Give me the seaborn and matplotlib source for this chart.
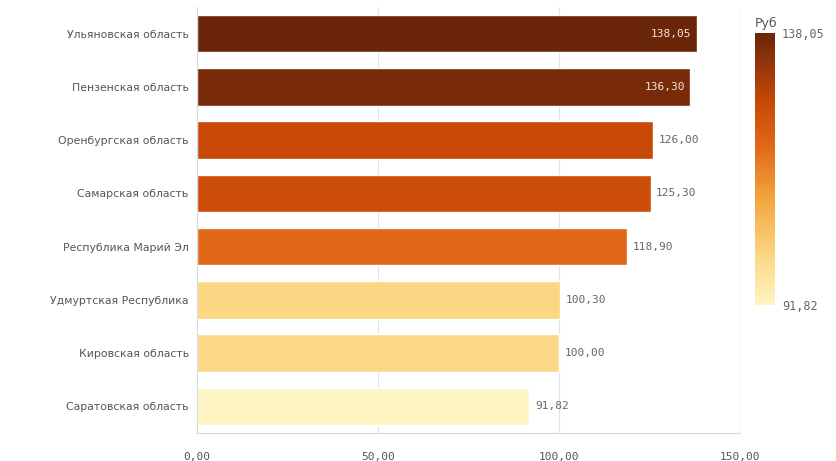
import matplotlib
matplotlib.use("Agg")
import matplotlib.pyplot as plt
import seaborn as sns
import pandas as pd
import numpy as np
from matplotlib.colors import LinearSegmentedColormap, Normalize
from matplotlib.cm import ScalarMappable

regions = ["Ульяновская область", "Пензенская область", "Оренбургская область",
           "Самарская область", "Республика Марий Эл", "Удмуртская Республика",
           "Кировская область", "Саратовская область"]
values = [138.05, 136.30, 126.00, 125.30, 118.90, 100.30, 100.00, 91.82]
x_ticks = [0, 50, 100, 150]
cbar_title = "Руб"

sns.set_theme(style="white")
plt.rcParams['font.family'] = ['DejaVu Sans']

cmap = LinearSegmentedColormap.from_list(
    "rub", [(0.0, "#fff5c2"), (0.18, "#fbd784"), (0.40, "#f3a23a"), (0.58, "#e2681a"),
            (0.74, "#c94a06"), (0.88, "#96360a"), (1.0, "#6b2508")])
vmin, vmax = min(values), max(values)
norm = Normalize(vmin=vmin, vmax=vmax)
palette = {r: cmap(norm(v)) for r, v in zip(regions, values)}

df = pd.DataFrame({"region": regions, "value": values})

fig = plt.figure(figsize=(8.36, 4.61), dpi=100)
ax = fig.add_axes([197/836, 1-433/461, (740-197)/836, (433-7)/461])
sns.barplot(data=df, x="value", y="region", hue="region", palette=palette,
            legend=False, ax=ax, width=0.7, saturation=1, orient="h")

ax.set_xlim(0, 150)
ax.set_ylim(7.5, -0.5)
ax.set_xticks(x_ticks)
ax.set_xticklabels([f"{t:.2f}".replace(".", ",") for t in x_ticks],
                   family="DejaVu Sans Mono", fontsize=8, color="#555555")
ax.set_xlabel("")
ax.set_ylabel("")
ax.tick_params(axis="y", length=0, pad=6, labelsize=7.8, labelcolor="#555555")
ax.tick_params(axis="x", length=10, width=0.8, color="#d5d9e0", pad=4)
ax.grid(axis="x", color="#e0e3e8", linewidth=0.8)
ax.set_axisbelow(True)
for s in ["top", "right"]:
    ax.spines[s].set_visible(False)
ax.spines["left"].set_color("#d5d9e0")
ax.spines["bottom"].set_color("#d5d9e0")
ax.spines["left"].set_linewidth(0.8)
ax.spines["bottom"].set_linewidth(0.8)
ax.axvline(150, color="#d5d9e0", linewidth=0.8, zorder=0)

for i, v in enumerate(values):
    lbl = f"{v:.2f}".replace(".", ",")
    if v > 130:
        ax.text(v - 1.5, i, lbl, ha="right", va="center", color="#f3e6dc",
                family="DejaVu Sans Mono", fontsize=8)
    else:
        ax.text(v + 1.5, i, lbl, ha="left", va="center", color="#666666",
                family="DejaVu Sans Mono", fontsize=8)

cax = fig.add_axes([755/836, 1-305/461, 20/836, 272/461])
sm = ScalarMappable(norm=norm, cmap=cmap)
cb = fig.colorbar(sm, cax=cax)
cb.outline.set_visible(False)
cb.set_ticks([vmin, vmax])
cb.set_ticklabels([f"{vmin:.2f}".replace(".", ","), f"{vmax:.2f}".replace(".", ",")])
cax.tick_params(length=0, pad=5, labelsize=8.5, labelcolor="#666666")
for t in cax.get_yticklabels():
    t.set_family("DejaVu Sans Mono")
cax.set_title(cbar_title, loc="left", fontsize=9, color="#555555", pad=4)

fig.savefig("out.png", dpi=100)
